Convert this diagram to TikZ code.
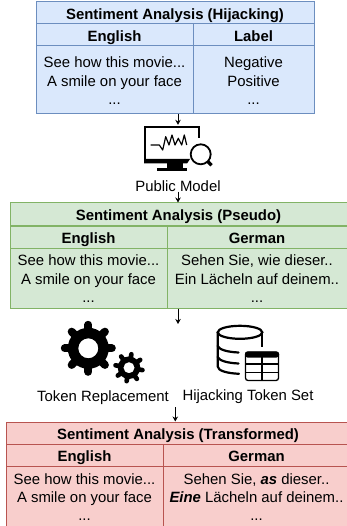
\documentclass[tikz,border=0pt]{standalone}
\usepackage{fontspec}
\setmainfont{Liberation Sans}
\usetikzlibrary{arrows.meta}
\definecolor{bluefill}{HTML}{DAE8FC}\definecolor{blueline}{HTML}{6C8EBF}
\definecolor{greenfill}{HTML}{D5E8D4}\definecolor{greenline}{HTML}{82B366}
\definecolor{redfill}{HTML}{F8CECC}\definecolor{redline}{HTML}{B85450}
\tikzset{
  cell/.style={draw,line width=1pt,inner sep=0pt,align=center,font=\fontsize{14.9}{18.3}\selectfont},
  bluecell/.style={cell,fill=bluefill,draw=blueline},
  greencell/.style={cell,fill=greenfill,draw=greenline},
  redcell/.style={cell,fill=redfill,draw=redline},
  headcell/.style={text height=12.6pt,text depth=0pt},
  captext/.style={inner sep=0pt,font=\fontsize{14.9}{18.3}\selectfont},
  iconbox/.style={inner sep=0pt,minimum width=#1},
  arr/.style={line width=0.9pt,-{Stealth[length=5pt,width=5.5pt]}},
}
\newcommand{\tcell}[7][]{\node[#7,#1,minimum width={(#4-#2)*1pt},minimum height={(#5-#3)*1pt}] (#6) at ({(#2+#4)/2},{(#3+#5)/2})}
\newcommand{\topline}[1]{\rule{0pt}{#1pt}}
\newcommand{\cogwheel}[6]{% cx cy outer body hole rotation
  \fill[black,even odd rule]
    (#1,#2) circle[radius=#4] (#1,#2) circle[radius=#5];
  \foreach \a in {0,45,...,315}{
    \draw[black,line width={#3*0.29pt},line cap=round] ({#1+(#4-0.5)*cos(\a+#6)},{#2+(#4-0.5)*sin(\a+#6)}) -- ({#1+(#3-#3*0.145)*cos(\a+#6)},{#2+(#3-#3*0.145)*sin(\a+#6)});
  }
}
\begin{document}
\begin{tikzpicture}[x=1pt,y=-1pt]
\useasboundingbox (0,0) rectangle (347,526);
\clip (0,0) rectangle (347,526);
% table 1
\tcell[headcell]{36}{2}{314}{24}{t1title}{bluecell}{\bfseries Sentiment Analysis (Hijacking)};
\tcell[headcell]{36}{24}{193}{46}{t1a}{bluecell}{\bfseries English};
\tcell[headcell]{193}{24}{314}{46}{t1b}{bluecell}{\bfseries Label};
\tcell{36}{46}{193}{114}{t1c}{bluecell}{\topline{12.4}See how this movie...\\A smile on your face\\...};
\tcell{193}{46}{314}{114}{t1d}{bluecell}{\topline{12.4}Negative\\Positive\\...};
% table 2
\tcell[headcell]{10}{203}{347}{226}{t2title}{greencell}{\bfseries Sentiment Analysis (Pseudo)};
\tcell[headcell]{10}{226}{167}{248}{t2a}{greencell}{\bfseries English};
\tcell[headcell]{167}{226}{347}{248}{t2b}{greencell}{\bfseries German};
\tcell{10}{248}{167}{308}{t2c}{greencell}{\topline{12}See how this movie...\\A smile on your face\\...};
\tcell{167}{248}{347}{308}{t2d}{greencell}{\topline{12}Sehen Sie, wie dieser..\\Ein Lächeln auf deinem..\\...};
% table 3
\tcell[headcell]{6}{422}{350}{444}{t3title}{redcell}{\bfseries Sentiment Analysis (Transformed)};
\tcell[headcell]{6}{444}{163}{466}{t3a}{redcell}{\bfseries English};
\tcell[headcell]{163}{444}{350}{466}{t3b}{redcell}{\bfseries German};
\tcell{6}{466}{163}{528}{t3c}{redcell}{\topline{11}See how this movie...\\A smile on your face\\...};
\tcell{163}{466}{350}{528}{t3d}{redcell}{\topline{11}Sehen Sie, \textbf{\textit{as}} dieser..\\\textbf{\textit{Eine}} Lächeln auf deinem..\\...};
% monitor icon
\node[iconbox=68pt,minimum height=46pt] (monitor) at (178,148) {};
\draw[line width=1.7pt,line join=miter] (199.3,138) -- (199.3,127) -- (145,127) -- (145,160);
\fill (144,159) -- (190,159) -- (187,163.5) -- (144,163.5) -- cycle;
\fill (167,163) rectangle (183,168);
\fill (157,168) rectangle (187,171);
\draw[line width=1.2pt,line join=round] (150.7,145) -- (159.3,145) -- (162.7,150) -- (165.7,136.7) -- (169,145) -- (172,135) -- (175,145) -- (178.3,138.3) -- (181.7,145) -- (184.3,135) -- (186.7,145);
\draw[line width=1.8pt] (200.7,154.3) circle[radius=10];
\draw[line width=3.4pt] (207.8,161.4) -- (211.5,165.3);
\node[captext] (pm) at (178,186) {Public Model};
% gears
\node[iconbox=95pt,minimum height=62pt] (gears) at (96,353) {};
\cogwheel{88.3}{348.3}{27.5}{20.5}{10}{0}
\cogwheel{129}{367.7}{16}{11.3}{5.6}{10}
\node[captext] (tr) at (103,398) {Token Replacement};
% database
\node[iconbox=64pt,minimum height=58pt] (dbicon) at (248,353) {};
\draw[line width=2.2pt] (240,332.3) ellipse[x radius=22.3,y radius=6.5];
\draw[line width=2.2pt] (262.3,332.3) -- (262.3,347);
\draw[line width=2.2pt,line cap=round] (217.7,332.3) -- (217.7,366.5) .. controls (217.7,371) and (228,373.3) .. (239,373.8);
\draw[line width=2.2pt,line cap=round] (217.7,346) .. controls (219,349.5) and (227,352) .. (238.5,352.5);
\draw[line width=2.2pt,line cap=round] (217.7,357) .. controls (219,360.5) and (227,363) .. (238.5,363.5);
\fill[white] (243,349) rectangle (281,383);
\draw[line width=1.3pt,rounded corners=2.5pt] (245.5,352) rectangle (278.5,380.5);
\fill[rounded corners=2.5pt] (245,351.5) rectangle (279,357.5);
\draw[line width=1.1pt] (245.5,364) -- (278.5,364) (245.5,372.5) -- (278.5,372.5) (262,357) -- (262,380.5);
\node[captext] (hts) at (248,397) {Hijacking Token Set};
% arrows
\coordinate (below2) at (178,324);
\coordinate (above3) at (175.3,407);
\draw[arr] (monitor.north |- t1c.south) -- (monitor.north);
\draw[arr] (pm.south) -- (pm.south |- t2title.north);
\draw[arr] (below2 |- t2c.south) -- (below2);
\draw[arr] (above3) -- (above3 |- t3title.north);
\end{tikzpicture}
\end{document}
